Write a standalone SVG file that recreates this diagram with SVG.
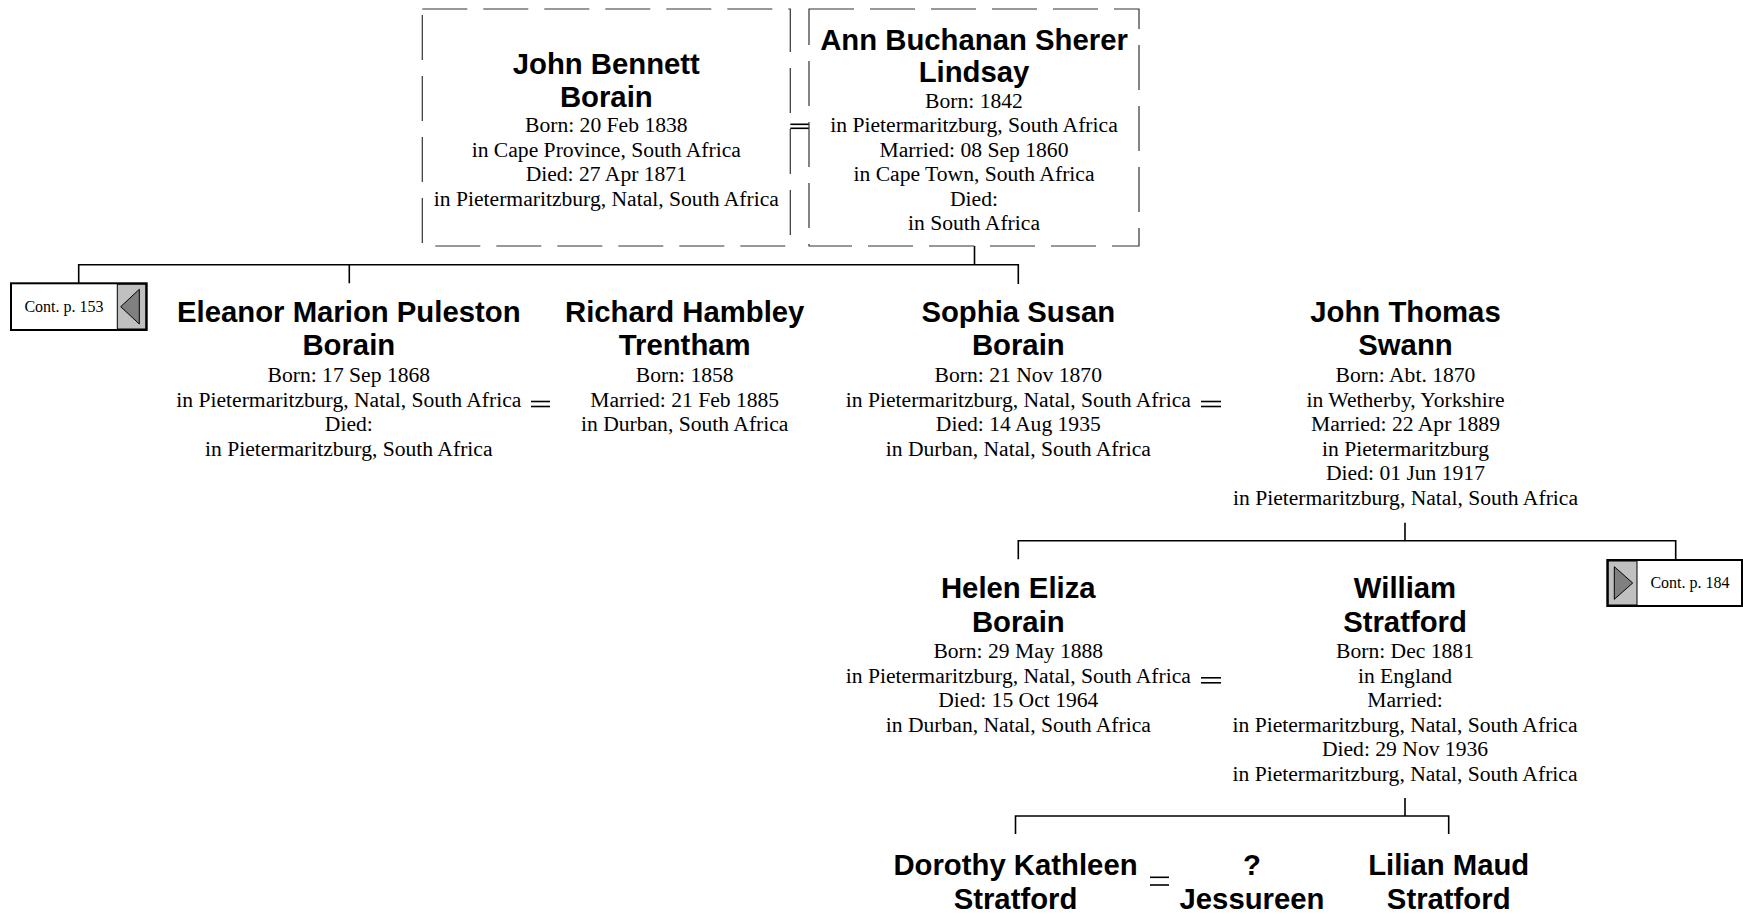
<svg xmlns="http://www.w3.org/2000/svg" width="1743" height="914" viewBox="0 0 1743 914">
<style>
.n{font-family:"Liberation Sans",Arial,sans-serif;font-weight:bold;font-size:29.3px;text-anchor:middle;fill:#000}
.d{font-family:"Liberation Serif","Times New Roman",serif;font-size:21.6px;text-anchor:middle;fill:#000}
.c{font-family:"Liberation Serif","Times New Roman",serif;font-size:16px;text-anchor:middle;fill:#000}
.ln{stroke:#000;stroke-width:1.6;fill:none}
.eq{stroke:#000;stroke-width:1.6;fill:none}
.box{fill:none;stroke:#333;stroke-width:1.2;stroke-dasharray:45 16}
.cb{fill:#fff;stroke:#000;stroke-width:2}
.cg{fill:#c0c0c0;stroke:#000;stroke-width:1}
.tri{fill:#808080;stroke:#000;stroke-width:1}
</style>
<rect width="1743" height="914" fill="#fff"/>
<g id="connectors">
  <line class="eq" x1="790.3" y1="124.3" x2="809" y2="124.3"/>
  <line class="eq" x1="790.3" y1="128.3" x2="809" y2="128.3"/>
  <path class="ln" d="M974.5 246V264.7M78.7 283.3V264.7H1018.3V284M349.3 264.7V283.3"/>
  <path class="ln" d="M1405 522.7V540.7M1018.3 559.3V540.7H1675.7V560"/>
  <path class="ln" d="M1405 798V816M1015.5 834V816H1448.7V834"/>
  <line class="eq" x1="531" y1="401.5" x2="550" y2="401.5"/>
  <line class="eq" x1="531" y1="406.5" x2="550" y2="406.5"/>
  <line class="eq" x1="1201" y1="401.5" x2="1221" y2="401.5"/>
  <line class="eq" x1="1201" y1="406.5" x2="1221" y2="406.5"/>
  <line class="eq" x1="1201" y1="677.8" x2="1221" y2="677.8"/>
  <line class="eq" x1="1201" y1="682.8" x2="1221" y2="682.8"/>
  <line class="eq" x1="1150" y1="877.3" x2="1169" y2="877.3"/>
  <line class="eq" x1="1150" y1="885" x2="1169" y2="885"/>
</g>
<g id="cont153">
  <rect class="cb" x="11" y="283.3" width="135.7" height="46.7"/>
  <rect class="cg" x="117.3" y="284.3" width="28.4" height="44.7"/>
  <polygon class="tri" points="120.7,306.7 139.3,289.3 139.3,324"/>
  <text class="c" x="64" y="312.3">Cont. p. 153</text>
</g>
<g id="cont184">
  <rect class="cb" x="1607.3" y="560" width="134.7" height="46"/>
  <rect class="cg" x="1608.3" y="561" width="28.7" height="44"/>
  <polygon class="tri" points="1614.3,566.7 1614.3,599.3 1632.7,583"/>
  <text class="c" x="1690" y="588.3">Cont. p. 184</text>
</g>
<g id="john-bennett-borain">
  <rect class="box" x="422.3" y="9" width="368" height="237"/>
  <text class="n" x="606.3" y="74">John Bennett</text>
  <text class="n" x="606.3" y="106.5">Borain</text>
  <text class="d" x="606.3" y="132">Born: 20 Feb 1838</text>
  <text class="d" x="606.3" y="156.5">in Cape Province, South Africa</text>
  <text class="d" x="606.3" y="181">Died: 27 Apr 1871</text>
  <text class="d" x="606.3" y="205.5">in Pietermaritzburg, Natal, South Africa</text>
</g>
<g id="ann-lindsay">
  <rect class="box" x="809" y="9" width="330" height="237"/>
  <text class="n" x="974" y="49.5">Ann Buchanan Sherer</text>
  <text class="n" x="974" y="82">Lindsay</text>
  <text class="d" x="974" y="107.5">Born: 1842</text>
  <text class="d" x="974" y="132">in Pietermaritzburg, South Africa</text>
  <text class="d" x="974" y="156.5">Married: 08 Sep 1860</text>
  <text class="d" x="974" y="181">in Cape Town, South Africa</text>
  <text class="d" x="974" y="205.5">Died:</text>
  <text class="d" x="974" y="230">in South Africa</text>
</g>
<g id="eleanor-borain">
  <text class="n" x="348.8" y="321.7">Eleanor Marion Puleston</text>
  <text class="n" x="348.8" y="355">Borain</text>
  <text class="d" x="348.8" y="382">Born: 17 Sep 1868</text>
  <text class="d" x="348.8" y="406.5">in Pietermaritzburg, Natal, South Africa</text>
  <text class="d" x="348.8" y="431">Died:</text>
  <text class="d" x="348.8" y="455.5">in Pietermaritzburg, South Africa</text>
</g>
<g id="richard-trentham">
  <text class="n" x="684.7" y="321.7">Richard Hambley</text>
  <text class="n" x="684.7" y="355">Trentham</text>
  <text class="d" x="684.7" y="382">Born: 1858</text>
  <text class="d" x="684.7" y="406.5">Married: 21 Feb 1885</text>
  <text class="d" x="684.7" y="431">in Durban, South Africa</text>
</g>
<g id="sophia-borain">
  <text class="n" x="1018.3" y="321.7">Sophia Susan</text>
  <text class="n" x="1018.3" y="355">Borain</text>
  <text class="d" x="1018.3" y="382">Born: 21 Nov 1870</text>
  <text class="d" x="1018.3" y="406.5">in Pietermaritzburg, Natal, South Africa</text>
  <text class="d" x="1018.3" y="431">Died: 14 Aug 1935</text>
  <text class="d" x="1018.3" y="455.5">in Durban, Natal, South Africa</text>
</g>
<g id="john-thomas-swann">
  <text class="n" x="1405.5" y="321.7">John Thomas</text>
  <text class="n" x="1405.5" y="355">Swann</text>
  <text class="d" x="1405.5" y="382">Born: Abt. 1870</text>
  <text class="d" x="1405.5" y="406.5">in Wetherby, Yorkshire</text>
  <text class="d" x="1405.5" y="431">Married: 22 Apr 1889</text>
  <text class="d" x="1405.5" y="455.5">in Pietermaritzburg</text>
  <text class="d" x="1405.5" y="480">Died: 01 Jun 1917</text>
  <text class="d" x="1405.5" y="504.5">in Pietermaritzburg, Natal, South Africa</text>
</g>
<g id="helen-borain">
  <text class="n" x="1018.3" y="598.3">Helen Eliza</text>
  <text class="n" x="1018.3" y="631.7">Borain</text>
  <text class="d" x="1018.3" y="658.3">Born: 29 May 1888</text>
  <text class="d" x="1018.3" y="682.8">in Pietermaritzburg, Natal, South Africa</text>
  <text class="d" x="1018.3" y="707.3">Died: 15 Oct 1964</text>
  <text class="d" x="1018.3" y="731.8">in Durban, Natal, South Africa</text>
</g>
<g id="william-stratford">
  <text class="n" x="1405" y="598.3">William</text>
  <text class="n" x="1405" y="631.7">Stratford</text>
  <text class="d" x="1405" y="658.3">Born: Dec 1881</text>
  <text class="d" x="1405" y="682.8">in England</text>
  <text class="d" x="1405" y="707.3">Married:</text>
  <text class="d" x="1405" y="731.8">in Pietermaritzburg, Natal, South Africa</text>
  <text class="d" x="1405" y="756.3">Died: 29 Nov 1936</text>
  <text class="d" x="1405" y="780.8">in Pietermaritzburg, Natal, South Africa</text>
</g>
<g id="dorothy-stratford">
  <text class="n" x="1015.5" y="875">Dorothy Kathleen</text>
  <text class="n" x="1015.5" y="908.5">Stratford</text>
</g>
<g id="jessureen">
  <text class="n" x="1252" y="875">?</text>
  <text class="n" x="1252" y="908.5">Jessureen</text>
</g>
<g id="lilian-stratford">
  <text class="n" x="1448.7" y="875">Lilian Maud</text>
  <text class="n" x="1448.7" y="908.5">Stratford</text>
</g>
</svg>
